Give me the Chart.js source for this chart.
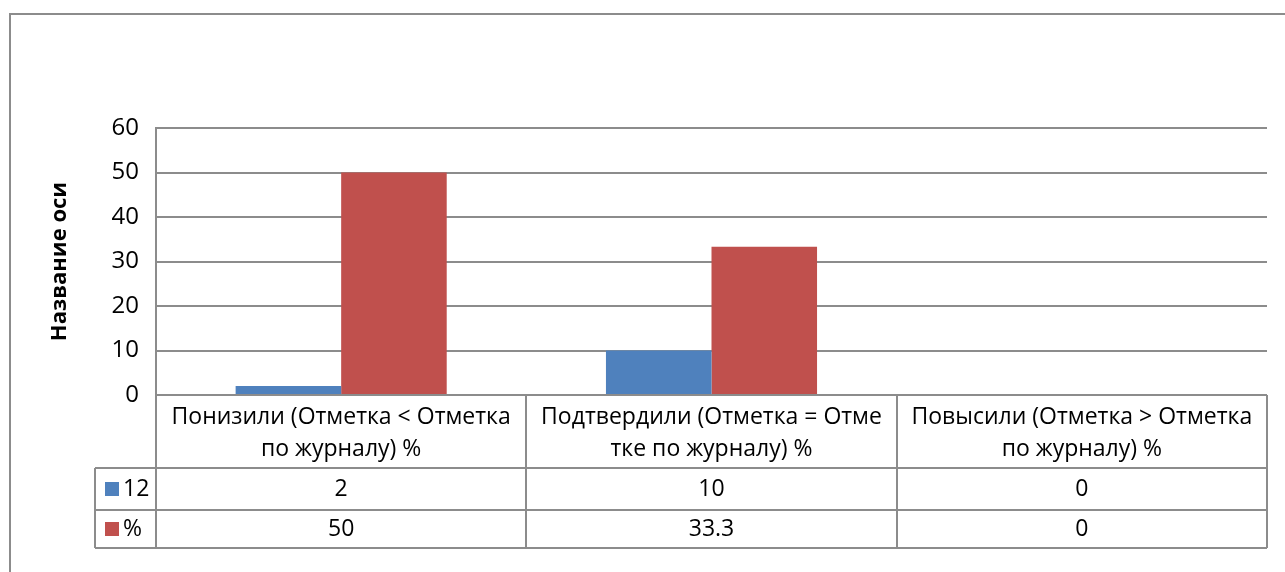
<!DOCTYPE html>
<html>
<head>
<meta charset="utf-8">
<script src="https://cdn.jsdelivr.net/npm/chart.js@4"></script>
<style>
  html, body { margin: 0; padding: 0; background: #ffffff; }
  #wrap { width: 1285px; height: 572px; position: relative; }
</style>
</head>
<body>
<div id="wrap"><canvas id="c" width="1285" height="572"></canvas></div>
<script>
// ---- data ----
const categories = [
  "Понизили (Отметка < Отметка по журналу) %",
  "Подтвердили (Отметка = Отметке по журналу) %",
  "Повысили (Отметка > Отметка по журналу) %"
];
// the wrapped lines as they appear in the data table header
const categoryLines = [
  ["Понизили (Отметка < Отметка", "по журналу) %"],
  ["Подтвердили (Отметка = Отме", "тке по журналу) %"],
  ["Повысили (Отметка > Отметка", "по журналу) %"]
];
const seriesNames = ["12", "%"];
const series12 = [2, 10, 0];
const seriesPct = [50, 33.3, 0];
const yTicks = [0, 10, 20, 30, 40, 50, 60];
const yTitle = "Название оси";

const COLORS = ["#4F81BD", "#C0504D"];
const LINE = "#8c8c8c";
const FONT = "'Open Sans', 'Noto Sans', sans-serif";

const tablePlugin = {
  id: "dataTable",
  beforeDraw(chart) {
    const ctx = chart.ctx;
    ctx.save();
    ctx.fillStyle = "#ffffff";
    ctx.fillRect(0, 0, chart.width, chart.height);
    ctx.strokeStyle = "#8c8c8c";
    ctx.lineWidth = 2;
    ctx.beginPath();
    ctx.moveTo(10, chart.height + 5);
    ctx.lineTo(10, 14);
    ctx.lineTo(chart.width + 5, 14);
    ctx.stroke();
    ctx.restore();
  },
  afterDraw(chart) {
    const ctx = chart.ctx;
    const xs = chart.scales.x;
    const area = chart.chartArea;
    const n = categories.length;
    const step = (area.right - area.left) / n;
    const top = area.bottom;
    const headerBottom = top + 73;
    const row1Bottom = headerBottom + 42;
    const row2Bottom = row1Bottom + 38;
    const legLeft = area.left - 61;
    ctx.save();
    ctx.strokeStyle = LINE;
    ctx.lineWidth = 2;
    ctx.beginPath();
    ctx.moveTo(area.left, area.top); ctx.lineTo(area.left, row2Bottom);
    for (let i = 1; i <= n; i++) {
      const x = Math.round(area.left + step * i);
      ctx.moveTo(x, top); ctx.lineTo(x, row2Bottom);
    }
    ctx.moveTo(legLeft, headerBottom); ctx.lineTo(legLeft, row2Bottom);
    [headerBottom, row1Bottom, row2Bottom].forEach(y => {
      ctx.moveTo(legLeft, y); ctx.lineTo(area.right, y);
    });
    ctx.stroke();

    ctx.fillStyle = "#000000";
    ctx.font = "23px " + FONT;
    ctx.textAlign = "center";
    ctx.textBaseline = "middle";
    for (let i = 0; i < n; i++) {
      const cx = xs.getPixelForValue(i);
      ctx.fillText(categoryLines[i][0], cx, top + 22);
      ctx.fillText(categoryLines[i][1], cx, top + 54);
      ctx.fillText(String(series12[i]), cx, (headerBottom + row1Bottom) / 2);
      ctx.fillText(String(seriesPct[i]), cx, (row1Bottom + row2Bottom) / 2);
    }
    const rows = [[headerBottom, row1Bottom], [row1Bottom, row2Bottom]];
    ctx.textAlign = "left";
    rows.forEach((r, k) => {
      const cy = (r[0] + r[1]) / 2;
      ctx.fillStyle = COLORS[k];
      ctx.fillRect(legLeft + 10, cy - 7, 14, 14);
      ctx.fillStyle = "#000000";
      ctx.fillText(seriesNames[k], legLeft + 28, cy);
    });
    // y axis title
    ctx.translate(60, (area.top + area.bottom) / 2);
    ctx.rotate(-Math.PI / 2);
    ctx.textAlign = "center";
    ctx.font = "bold 22px " + FONT;
    ctx.fillText(yTitle, 0, 0);
    ctx.restore();
  }
};

new Chart(document.getElementById("c"), {
  type: "bar",
  data: {
    labels: categories,
    datasets: [
      { label: seriesNames[0], data: series12, backgroundColor: COLORS[0], borderWidth: 0 },
      { label: seriesNames[1], data: seriesPct, backgroundColor: COLORS[1], borderWidth: 0 }
    ]
  },
  options: {
    responsive: false,
    animation: false,
    devicePixelRatio: 1,
    layout: { padding: { left: 0, top: 128, right: 18, bottom: 177 } },
    datasets: { bar: { categoryPercentage: 0.57, barPercentage: 1.0 } },
    plugins: {
      legend: { display: false },
      tooltip: { enabled: false },
      title: { display: false }
    },
    scales: {
      x: {
        display: false,
        grid: { display: false }
      },
      y: {
        min: 0,
        max: 60,
        afterBuildTicks(axis) { axis.ticks = yTicks.map(v => ({ value: v })); },
        afterFit(axis) { axis.width = 156; },
        border: { display: true, color: LINE, width: 2 },
        grid: { color: LINE, lineWidth: 2, drawTicks: false },
        ticks: {
          color: "#000000",
          padding: 17,
          font: { family: FONT, size: 24 }
        },
        title: { display: false }
      }
    }
  },
  plugins: [tablePlugin]
});
</script>
</body>
</html>
